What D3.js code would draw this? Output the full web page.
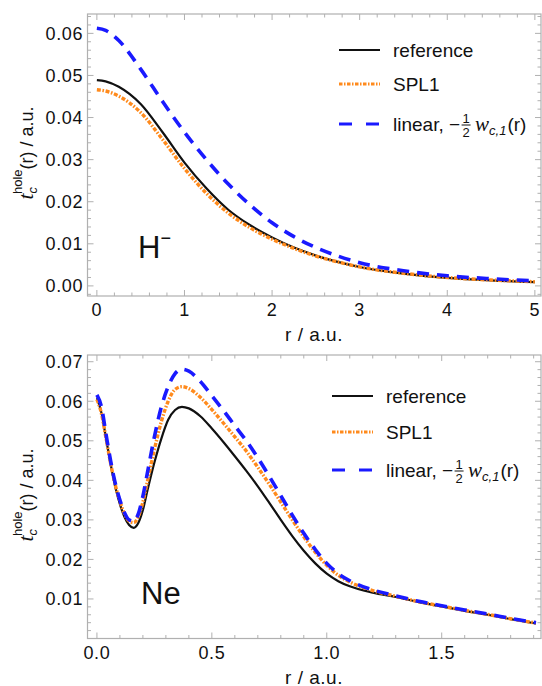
<!DOCTYPE html>
<html>
<head>
<meta charset="utf-8">
<script src="https://cdn.jsdelivr.net/npm/d3@7"></script>
<style>
  body { margin: 0; background: #fff; }
  svg text { font-family: "Liberation Sans", Arial, sans-serif; fill: #111; }
</style>
</head>
<body>
<svg id="chart" width="542" height="686"></svg>
<script>
// H- panel
const hR   = [0, 0.1, 0.25, 0.5, 0.75, 1, 1.25, 1.5, 1.75, 2, 2.25, 2.5, 2.75, 3, 3.5, 4, 4.5, 5];
const hRef = [0.0489, 0.0486, 0.0473, 0.0432, 0.0365, 0.0293, 0.0232, 0.0181, 0.0144, 0.0115, 0.0091, 0.0072, 0.0057, 0.0045, 0.0029, 0.0019, 0.0013, 0.0009];
const hSpl = [0.0466, 0.0463, 0.0451, 0.0412, 0.0348, 0.0279, 0.0220, 0.0173, 0.0138, 0.0111, 0.0089, 0.0071, 0.0057, 0.0045, 0.0030, 0.0020, 0.0014, 0.0010];
const hLin = [0.0612, 0.0607, 0.0583, 0.0515, 0.0438, 0.0365, 0.0300, 0.0242, 0.0192, 0.0150, 0.0117, 0.0091, 0.0071, 0.0055, 0.0036, 0.0024, 0.0017, 0.0012];

// Ne panel
const neR   = [0, 0.02, 0.04, 0.06, 0.08, 0.10, 0.12, 0.14, 0.16, 0.18, 0.20, 0.22, 0.25, 0.28, 0.31, 0.34, 0.37, 0.40, 0.45, 0.50, 0.55, 0.60, 0.65, 0.70, 0.75, 0.80, 0.85, 0.90, 0.95, 1.0, 1.05, 1.1, 1.2, 1.3, 1.4, 1.5, 1.6, 1.7, 1.8, 1.91];
const neRef = [0.0608, 0.0570, 0.0505, 0.0440, 0.0383, 0.0340, 0.0307, 0.0287, 0.0280, 0.0292, 0.0325, 0.0375, 0.0445, 0.0505, 0.0553, 0.0578, 0.0586, 0.0582, 0.0562, 0.0531, 0.0497, 0.0461, 0.0424, 0.0385, 0.0343, 0.0300, 0.0259, 0.0222, 0.0190, 0.0164, 0.0145, 0.0132, 0.0116, 0.0105, 0.0092, 0.0081, 0.0070, 0.0060, 0.0049, 0.0038];
const neSpl = [0.0605, 0.0568, 0.0505, 0.0442, 0.0388, 0.0347, 0.0315, 0.0297, 0.0293, 0.0308, 0.0345, 0.0398, 0.0478, 0.0548, 0.0600, 0.0630, 0.0637, 0.0632, 0.0610, 0.0579, 0.0545, 0.0510, 0.0474, 0.0433, 0.0390, 0.0345, 0.0300, 0.0257, 0.0218, 0.0185, 0.0160, 0.0143, 0.0121, 0.0107, 0.0093, 0.0082, 0.0071, 0.0061, 0.0050, 0.0039];
const neLin = [0.0616, 0.0585, 0.0515, 0.0448, 0.0392, 0.0350, 0.0318, 0.0300, 0.0297, 0.0315, 0.0360, 0.0420, 0.0510, 0.0585, 0.0637, 0.0670, 0.0681, 0.0676, 0.0650, 0.0614, 0.0577, 0.0538, 0.0500, 0.0457, 0.0410, 0.0361, 0.0312, 0.0266, 0.0225, 0.0190, 0.0164, 0.0146, 0.0123, 0.0108, 0.0094, 0.0083, 0.0072, 0.0062, 0.0051, 0.0040];

const hXTicks  = [0, 1, 2, 3, 4, 5];
const hYTicks  = [0, 0.01, 0.02, 0.03, 0.04, 0.05, 0.06];
const neXTicks = [0, 0.5, 1.0, 1.5];
const neYTicks = [0.01, 0.02, 0.03, 0.04, 0.05, 0.06, 0.07];

const seriesNames = ["reference", "SPL1", "linear"];

const styles = {
  reference: { color: "#111", width: 2.2, dash: null },
  SPL1:      { color: "#ff8a1c", width: 3.4, dash: "4,1.6,1.6,1.6" },
  linear:    { color: "#1a1aff", width: 3.6, dash: "12,8" }
};

const svg = d3.select("#chart");
const frameColor = "#b0b0b0";

function drawPanel(cfg) {
  const x = d3.scaleLinear().domain(cfg.xDomain).range([87.5, 541]);
  const y = d3.scaleLinear().domain(cfg.yDomain).range([cfg.bottom, cfg.top]);
  const g = svg.append("g");

  // frame ticks (inward, all four sides)
  const majLen = 6, minLen = 3.5;
  const tickG = g.append("g").attr("stroke", frameColor).attr("stroke-width", 1);
  const xMinor = d3.range(0, cfg.xDomain[1] + 1e-9, cfg.xMinorStep);
  const yMinor = d3.range(Math.ceil(cfg.yDomain[0] / cfg.yMinorStep) * cfg.yMinorStep, cfg.yDomain[1], cfg.yMinorStep)
    .filter(v => v > cfg.yDomain[0] + 1e-6);
  xMinor.forEach(v => {
    const isMaj = cfg.xTicks.some(t => Math.abs(t - v) < 1e-6);
    const L = isMaj ? majLen : minLen;
    tickG.append("line").attr("x1", x(v)).attr("x2", x(v)).attr("y1", cfg.bottom).attr("y2", cfg.bottom - L);
    tickG.append("line").attr("x1", x(v)).attr("x2", x(v)).attr("y1", cfg.top).attr("y2", cfg.top + L);
  });
  yMinor.forEach(v => {
    const isMaj = cfg.yTicks.some(t => Math.abs(t - v) < 1e-6);
    const L = isMaj ? majLen : minLen;
    tickG.append("line").attr("x1", 87.5).attr("x2", 87.5 + L).attr("y1", y(v)).attr("y2", y(v));
    tickG.append("line").attr("x1", 541).attr("x2", 541 - L).attr("y1", y(v)).attr("y2", y(v));
  });

  // curves
  const clipId = "clip" + cfg.id;
  g.append("clipPath").attr("id", clipId).append("rect")
    .attr("x", 87.5).attr("y", cfg.top).attr("width", 541 - 87.5).attr("height", cfg.bottom - cfg.top);
  const line = d3.line().x(d => x(d[0])).y(d => y(d[1])).curve(d3.curveMonotoneX);
  const order = ["reference", "SPL1", "linear"];
  order.forEach(name => {
    const vals = cfg.series[name];
    const st = styles[name];
    g.append("path")
      .attr("clip-path", `url(#${clipId})`)
      .attr("d", line(cfg.r.map((r, i) => [r, vals[i]])))
      .attr("fill", "none")
      .attr("stroke", st.color)
      .attr("stroke-width", st.width)
      .attr("stroke-dasharray", st.dash)
      .attr("stroke-linecap", "butt");
  });

  // frame
  g.append("rect")
    .attr("x", 87.5).attr("y", cfg.top)
    .attr("width", 541 - 87.5).attr("height", cfg.bottom - cfg.top)
    .attr("fill", "none").attr("stroke", frameColor).attr("stroke-width", 1.2);

  // tick labels
  g.selectAll(".xl").data(cfg.xTicks).enter().append("text")
    .attr("x", d => x(d)).attr("y", cfg.bottom + 20)
    .attr("text-anchor", "middle").attr("font-size", 18).attr("letter-spacing", 0.6)
    .text(cfg.xFmt);
  g.selectAll(".yl").data(cfg.yTicks).enter().append("text")
    .attr("x", 83).attr("y", d => y(d) + 6.5)
    .attr("text-anchor", "end").attr("font-size", 18).attr("letter-spacing", 0.6)
    .text(d => d3.format(".2f")(d));

  // axis titles
  g.append("text")
    .attr("x", 314).attr("y", cfg.bottom + 45)
    .attr("text-anchor", "middle").attr("font-size", 19).attr("letter-spacing", 0.5)
    .text("r / a.u.");

  const yl = g.append("text")
    .attr("transform", `translate(33,${cfg.yLabelY}) rotate(-90)`)
    .attr("text-anchor", "middle").attr("font-size", 18);
  yl.append("tspan").attr("font-style", "italic").attr("font-size", 22).attr("font-family", "Liberation Serif, serif").text("t");
  yl.append("tspan").attr("font-style", "italic").attr("font-size", 13).attr("dy", 4).text("c");
  yl.append("tspan").attr("font-size", 13).attr("dx", -7).attr("dy", -15).text("hole");
  yl.append("tspan").attr("dy", 11).text("(r) / a.u.");

  // species label
  const sp = g.append("text")
    .attr("x", cfg.spX).attr("y", cfg.spY).attr("font-size", 31).text(cfg.species);
  if (cfg.charge) sp.append("tspan").attr("font-size", 18).attr("dy", -14).text(cfg.charge);

  // legend
  const lg = g.append("g");
  seriesNames.forEach((name, i) => {
    const st = styles[name];
    const ly = cfg.legY[i];
    lg.append("line")
      .attr("x1", cfg.legX).attr("x2", cfg.legX + 41)
      .attr("y1", ly).attr("y2", ly)
      .attr("stroke", st.color)
      .attr("stroke-width", name === "reference" ? 2 : 3)
      .attr("stroke-dasharray", name === "linear" ? "13,14" : (name === "SPL1" ? "3.5,1.5,1.5,1.5" : null));
    const tx = cfg.legX + 54;
    if (name !== "linear") {
      lg.append("text").attr("x", tx).attr("y", ly + 6.5).attr("font-size", 19).text(name);
    } else {
      const t1 = lg.append("text").attr("x", tx).attr("y", ly + 6.5).attr("font-size", 19).text("linear, \u2212");
      const w1 = t1.node().getComputedTextLength();
      const fx = tx + w1 + 6;
      lg.append("text").attr("x", fx).attr("y", ly - 1).attr("font-size", 13).attr("text-anchor", "middle").text("1");
      lg.append("line").attr("x1", fx - 4.5).attr("x2", fx + 4.5).attr("y1", ly + 1).attr("y2", ly + 1)
        .attr("stroke", "#111").attr("stroke-width", 1);
      lg.append("text").attr("x", fx).attr("y", ly + 13).attr("font-size", 13).attr("text-anchor", "middle").text("2");
      const t2 = lg.append("text").attr("x", fx + 9).attr("y", ly + 6.5).attr("font-size", 19);
      t2.append("tspan").attr("font-style", "italic").attr("font-family", "Liberation Serif, serif").attr("font-size", 21).text("w");
      t2.append("tspan").attr("font-style", "italic").attr("font-size", 13).attr("dy", 4).text("c,1");
      t2.append("tspan").attr("dy", -4).attr("dx", 1).text("(r)");
    }
  });
}

drawPanel({
  id: "h",
  top: 14, bottom: 296,
  xDomain: [-0.107, 5.07], yDomain: [-0.0024, 0.0646],
  xTicks: hXTicks, yTicks: hYTicks,
  xMinorStep: 0.2, yMinorStep: 0.002,
  xFmt: d => d3.format("d")(d),
  r: hR, series: { reference: hRef, SPL1: hSpl, linear: hLin },
  yLabelY: 153, species: "H", charge: "\u2212", spX: 138, spY: 258,
  legX: 339, legY: [50, 84, 124]
});

drawPanel({
  id: "ne",
  top: 355, bottom: 638.5,
  xDomain: [-0.041, 1.932], yDomain: [0, 0.0717],
  xTicks: neXTicks, yTicks: neYTicks,
  xMinorStep: 0.1, yMinorStep: 0.002,
  xFmt: d => d3.format(".1f")(d),
  r: neR, series: { reference: neRef, SPL1: neSpl, linear: neLin },
  yLabelY: 495, species: "Ne", charge: null, spX: 141, spY: 604,
  legX: 332, legY: [396, 432, 470]
});
</script>
</body>
</html>
